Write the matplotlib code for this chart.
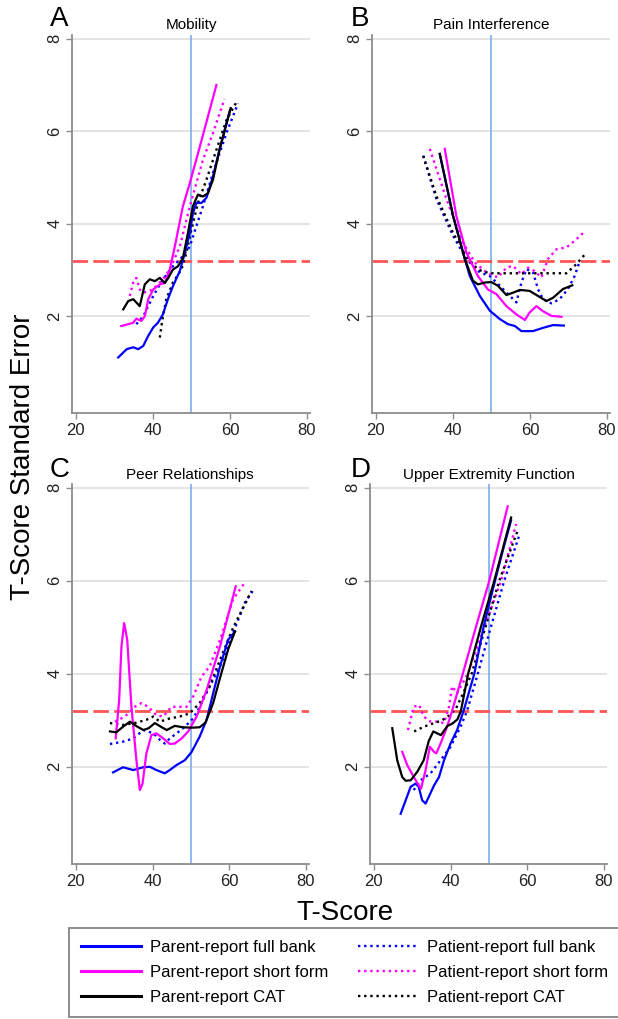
import matplotlib
matplotlib.use('Agg')
import matplotlib.pyplot as plt
from matplotlib.lines import Line2D

plt.rcParams['font.family'] = ['Liberation Sans', 'DejaVu Sans']

# ---- A: Mobility ----
mob_par_full_x = [31, 33.2, 34.9, 36.2, 37.5, 38.8, 40.1, 41.3, 42.6, 43.9, 45.2, 47, 48.3, 49.6, 50.4, 51.3, 52.6, 53.9, 55.6, 57.3, 60]
mob_par_full_y = [1.11, 1.29, 1.33, 1.29, 1.36, 1.58, 1.76, 1.86, 2.04, 2.37, 2.65, 2.98, 3.37, 3.8, 4.23, 4.45, 4.45, 4.56, 5.02, 5.6, 6.45]
mob_par_short_x = [31.8, 34.9, 35.7, 37, 37.9, 38.8, 40.1, 41.8, 43.1, 44.4, 45.7, 47.8, 49.6, 52.2, 56.5]
mob_par_short_y = [1.79, 1.86, 1.95, 1.9, 2.0, 2.37, 2.58, 2.69, 2.72, 3.01, 3.51, 4.38, 4.88, 5.67, 7.0]
mob_par_cat_x = [32.3, 33.6, 34.9, 36.6, 37.9, 39.2, 40.5, 41.8, 43.1, 44, 45.2, 46.5, 47.8, 49.1, 50.4, 51.7, 53, 54.3, 55.6, 57.3, 60.2]
mob_par_cat_y = [2.15, 2.33, 2.37, 2.22, 2.69, 2.8, 2.76, 2.83, 2.72, 2.83, 3.01, 3.08, 3.26, 3.8, 4.38, 4.63, 4.59, 4.66, 4.95, 5.6, 6.5]
mob_pat_full_x = [35.7, 37.5, 40.1, 42.6, 45.2, 47.8, 49.6, 51.3, 53, 55.6, 59.1, 62.1]
mob_pat_full_y = [1.83, 2.0, 2.44, 2.8, 3.08, 3.3, 3.51, 3.95, 4.38, 5.1, 5.96, 6.6]
mob_pat_short_x = [34, 34.9, 35.7, 36.6, 37.5, 39.2, 40.9, 42.6, 44.4, 47, 49.6, 53, 55.6, 58.6]
mob_pat_short_y = [2.44, 2.73, 2.83, 2.58, 2.51, 2.55, 2.65, 2.8, 3.01, 3.51, 4.38, 5.38, 5.96, 6.7]
mob_pat_cat_x = [41.8, 42.6, 43.5, 45.2, 47.4, 48.7, 50, 51.7, 53.9, 56.5, 59.1, 61.7]
mob_pat_cat_y = [1.54, 2.0, 2.37, 2.73, 3.01, 3.37, 3.87, 4.45, 4.95, 5.6, 6.24, 6.63]

# ---- B: Pain Interference ----
pain_par_full_x = [36.6, 40.05, 43.1, 44.4, 47, 49.6, 52.2, 54.3, 56.1, 57.8, 60.8, 63.4, 66, 68.8]
pain_par_full_y = [5.51, 4.17, 3.24, 2.87, 2.44, 2.12, 1.94, 1.83, 1.79, 1.68, 1.68, 1.75, 1.81, 1.8]
pain_par_short_x = [37.9, 40.9, 43.5, 46.5, 49.1, 51.3, 53.9, 56.5, 58.7, 59.9, 61.7, 63.4, 65.6, 68.2]
pain_par_short_y = [5.62, 4.17, 3.38, 2.87, 2.58, 2.48, 2.22, 2.04, 1.92, 2.08, 2.22, 2.11, 2.01, 1.99]
pain_par_cat_x = [36.6, 40.05, 43.1, 45.2, 46.5, 48.3, 50, 51.7, 53.9, 55.6, 57.4, 59.9, 62.1, 64.3, 66, 68.6, 71]
pain_par_cat_y = [5.51, 4.17, 3.24, 2.77, 2.69, 2.73, 2.74, 2.66, 2.46, 2.51, 2.57, 2.55, 2.44, 2.33, 2.4, 2.59, 2.67]
pain_pat_full_x = [32.3, 35.7, 40.05, 43.5, 47, 49.6, 52.2, 54.8, 56.5, 57.8, 59.1, 60.8, 62.1, 63.4, 65.6, 67.7, 69.9, 71.6, 72.7]
pain_pat_full_y = [5.47, 4.54, 3.74, 3.24, 2.95, 2.87, 2.66, 2.44, 2.3, 2.73, 3.02, 2.95, 2.59, 2.37, 2.28, 2.37, 2.59, 2.87, 3.13]
pain_pat_short_x = [34, 38.3, 42.6, 45.7, 48.7, 51.7, 53.9, 55.6, 57.8, 59.5, 61.2, 63, 64.7, 66.9, 69.5, 71.6, 73.8]
pain_pat_short_y = [5.62, 4.54, 3.6, 3.16, 2.95, 2.84, 3.05, 3.09, 2.91, 3.05, 2.98, 2.84, 3.24, 3.45, 3.49, 3.63, 3.8]
pain_pat_cat_x = [32.3, 35.7, 40.05, 43.5, 46.5, 49.5, 55, 60, 65, 69.5, 72.1, 74.2]
pain_pat_cat_y = [5.47, 4.6, 3.8, 3.3, 3.01, 2.93, 2.93, 2.93, 2.93, 2.93, 3.13, 3.33]

# ---- C: Peer Relationships ----
peer_par_full_x = [29.7, 32.3, 35, 37.6, 39.3, 41, 43.2, 44.5, 46.3, 48.4, 50.2, 52.3, 54.1, 55.8, 57.6, 59.7, 61.5]
peer_par_full_y = [1.88, 1.99, 1.93, 1.99, 2.0, 1.93, 1.86, 1.93, 2.04, 2.14, 2.32, 2.65, 3.01, 3.58, 4.16, 4.73, 4.91]
peer_par_short_x = [30.4, 31.3, 31.9, 32.6, 33.4, 34.5, 35.8, 36.7, 37.4, 38.4, 39.7, 41, 42.8, 44.5, 45.8, 47.6, 49.3, 51.5, 54.1, 57.6, 61.7]
peer_par_short_y = [2.61, 3.44, 4.59, 5.09, 4.73, 3.29, 2.14, 1.5, 1.64, 2.29, 2.68, 2.72, 2.61, 2.49, 2.5, 2.61, 2.76, 3.08, 3.65, 4.59, 5.88]
peer_par_cat_x = [28.9, 30.5, 32.3, 34.1, 35.9, 37.6, 39.0, 40.6, 42.2, 43.7, 45.8, 47.9, 50.2, 52.3, 53.8, 55.8, 57.6, 59.7, 61.5]
peer_par_cat_y = [2.76, 2.74, 2.86, 2.97, 2.87, 2.79, 2.83, 2.94, 2.86, 2.79, 2.88, 2.85, 2.84, 2.85, 2.95, 3.37, 3.91, 4.52, 4.91]
peer_pat_full_x = [28.9, 32.3, 35, 37.6, 40.2, 41.9, 43.2, 44.5, 46.3, 48.4, 50.6, 52.3, 54.9, 57.6, 61, 64.1, 66.1]
peer_pat_full_y = [2.49, 2.54, 2.61, 2.79, 2.72, 2.58, 2.5, 2.61, 2.72, 2.86, 3.04, 3.29, 3.73, 4.16, 4.88, 5.53, 5.78]
peer_pat_short_x = [30.2, 32.8, 35.4, 37.1, 38.9, 41, 42.8, 44.9, 46.7, 48.9, 50.6, 52.8, 54.9, 57.6, 61, 64.3]
peer_pat_short_y = [2.97, 3.08, 3.29, 3.37, 3.29, 3.11, 3.08, 3.29, 3.29, 3.29, 3.51, 3.94, 4.16, 4.73, 5.6, 5.99]
peer_pat_cat_x = [28.9, 32.3, 35.8, 38.4, 40.2, 41.9, 44.5, 47.1, 49.7, 52.3, 54.9, 57.6, 61, 64.5, 65.8]
peer_pat_cat_y = [2.94, 2.9, 2.95, 3.01, 3.08, 2.97, 3.04, 3.08, 3.15, 3.37, 3.73, 4.3, 4.99, 5.56, 5.78]

# ---- D: Upper Extremity Function ----
up_par_full_x = [27, 28.3, 29.6, 30.9, 31.7, 32.6, 33.5, 34.3, 35.7, 37, 38.3, 40, 41.7, 43.4, 46.2, 48.6, 51.6, 53.8, 55.8]
up_par_full_y = [0.99, 1.28, 1.57, 1.64, 1.57, 1.28, 1.21, 1.35, 1.6, 1.78, 2.14, 2.5, 2.79, 3.2, 4.0, 5.0, 6.0, 6.7, 7.3]
up_par_short_x = [27.4, 28.7, 30.4, 32.3, 33.5, 34.6, 35.7, 36.3, 37.4, 39.1, 40.4, 43.2, 46.6, 50.1, 54.9]
up_par_short_y = [2.32, 2.04, 1.78, 1.53, 1.93, 2.43, 2.32, 2.29, 2.5, 2.86, 3.2, 4.0, 5.0, 6.0, 7.6]
up_par_cat_x = [24.8, 26.1, 27.4, 28.3, 29.6, 31.3, 33, 34.3, 35.5, 37.5, 39.2, 40.5, 41.8, 42.7, 44.6, 47.9, 51.4, 55.8]
up_par_cat_y = [2.83, 2.14, 1.78, 1.7, 1.71, 1.89, 2.14, 2.55, 2.76, 2.68, 2.88, 2.93, 3.02, 3.2, 4.0, 5.0, 6.0, 7.36]
up_pat_full_x = [30.4, 32.2, 34.8, 37.4, 40, 42.6, 44.3, 47.1, 50.5, 54, 57.9]
up_pat_full_y = [1.5, 1.71, 1.86, 2.14, 2.43, 2.86, 3.2, 4.0, 5.0, 6.0, 6.97]
up_pat_short_x = [28.9, 30.4, 31.8, 33, 34.8, 36.5, 38.3, 39.6, 40.4, 41.7, 44.5, 48.8, 53.2, 57.1]
up_pat_short_y = [2.79, 3.29, 3.33, 3.08, 2.97, 2.97, 2.94, 3.29, 3.73, 3.58, 4.0, 5.0, 6.0, 7.22]
up_pat_cat_x = [30.5, 33, 35.7, 37.8, 39.6, 41.4, 43.4, 45.5, 49.1, 52.7, 57.5]
up_pat_cat_y = [2.76, 2.86, 2.94, 3.0, 3.1, 3.25, 3.6, 4.0, 5.0, 6.0, 7.08]

titles = ['Mobility', 'Pain Interference', 'Peer Relationships', 'Upper Extremity Function']
letters = ['A', 'B', 'C', 'D']
labels = ['Parent-report full bank', 'Parent-report short form', 'Parent-report CAT',
          'Patient-report full bank', 'Patient-report short form', 'Patient-report CAT']
colors = ['#0000ff', '#ff00ff', '#000000']

panels = [
    [(mob_par_full_x, mob_par_full_y), (mob_par_short_x, mob_par_short_y), (mob_par_cat_x, mob_par_cat_y),
     (mob_pat_full_x, mob_pat_full_y), (mob_pat_short_x, mob_pat_short_y), (mob_pat_cat_x, mob_pat_cat_y)],
    [(pain_par_full_x, pain_par_full_y), (pain_par_short_x, pain_par_short_y), (pain_par_cat_x, pain_par_cat_y),
     (pain_pat_full_x, pain_pat_full_y), (pain_pat_short_x, pain_pat_short_y), (pain_pat_cat_x, pain_pat_cat_y)],
    [(peer_par_full_x, peer_par_full_y), (peer_par_short_x, peer_par_short_y), (peer_par_cat_x, peer_par_cat_y),
     (peer_pat_full_x, peer_pat_full_y), (peer_pat_short_x, peer_pat_short_y), (peer_pat_cat_x, peer_pat_cat_y)],
    [(up_par_full_x, up_par_full_y), (up_par_short_x, up_par_short_y), (up_par_cat_x, up_par_cat_y),
     (up_pat_full_x, up_pat_full_y), (up_pat_short_x, up_pat_short_y), (up_pat_cat_x, up_pat_cat_y)],
]

W, H = 618, 1019
fig = plt.figure(figsize=(W / 100, H / 100), dpi=100)


def px_rect(l, t, r, b):
    return [l / W, 1 - b / H, (r - l) / W, (b - t) / H]


rects = [px_rect(72, 35, 310, 413), px_rect(372, 35, 610, 413),
         px_rect(72, 484, 309, 864), px_rect(370, 484, 607, 864)]
letter_pos = [(59, 19), (360, 19), (60, 470), (361, 470)]
title_pos = [(192, 25), (491, 25), (190, 475), (489, 475)]

dot = (1, 1.6)
for i, ax_rect in enumerate(rects):
    ax = fig.add_axes(ax_rect)
    ax.set_xlim(19, 80.8)
    ax.set_ylim(-0.09, 8.08)
    for s in ['top', 'right']:
        ax.spines[s].set_visible(False)
    for s in ['left', 'bottom']:
        ax.spines[s].set_color('#8c8c8c')
        ax.spines[s].set_linewidth(1.3)
    ax.set_xticks([20, 40, 60, 80])
    ax.set_yticks([2, 4, 6, 8])
    ax.tick_params(direction='out', length=4, width=1, color='#8c8c8c',
                   labelsize=12, labelcolor='#222222', pad=3)
    ax.tick_params(axis='y', labelrotation=90)
    for lbl in ax.get_yticklabels():
        lbl.set_va('center')
    ax.grid(axis='y', color='#dddddd', lw=1.1)
    ax.set_axisbelow(True)
    ax.axvline(50, color='#7aaef0', lw=1.2, zorder=1)
    ax.axhline(3.2, color='#ff5555', lw=2.0, dashes=(5.6, 1.9), zorder=1)

    series = panels[i]
    # patient-report (dotted) first, parent-report (solid) on top
    for k in range(3):
        x, y = series[3 + k]
        ax.plot(x, y, color=colors[k], lw=1.7, dashes=dot, zorder=2)
    for k in range(3):
        x, y = series[k]
        ax.plot(x, y, color=colors[k], lw=1.6, zorder=3)

    fig.text(letter_pos[i][0] / W, 1 - letter_pos[i][1] / H, letters[i],
             fontsize=20, ha='center', va='center')
    fig.text(title_pos[i][0] / W, 1 - title_pos[i][1] / H, titles[i],
             fontsize=11, ha='center', va='center')

fig.text(23 / W, 1 - 457 / H, 'T-Score Standard Error', rotation=90,
         fontsize=20, ha='center', va='center')
fig.text(345 / W, 1 - 913 / H, 'T-Score', fontsize=20, ha='center', va='center')

handles = [Line2D([], [], color=c, lw=2.2) for c in colors] + \
          [Line2D([], [], color=c, lw=1.7, dashes=dot) for c in colors]
leg = fig.legend(handles, labels, ncol=2, loc='center',
                 bbox_to_anchor=(69 / W, 1 - 1017 / H, 551 / W, 89 / H),
                 mode='expand', borderaxespad=0, fontsize=12, frameon=True,
                 fancybox=False, edgecolor='#666666', handlelength=3.6,
                 handletextpad=0.55, labelspacing=0.6, borderpad=0.7)
leg.get_frame().set_linewidth(1.3)

fig.savefig('out.png', dpi=100)
